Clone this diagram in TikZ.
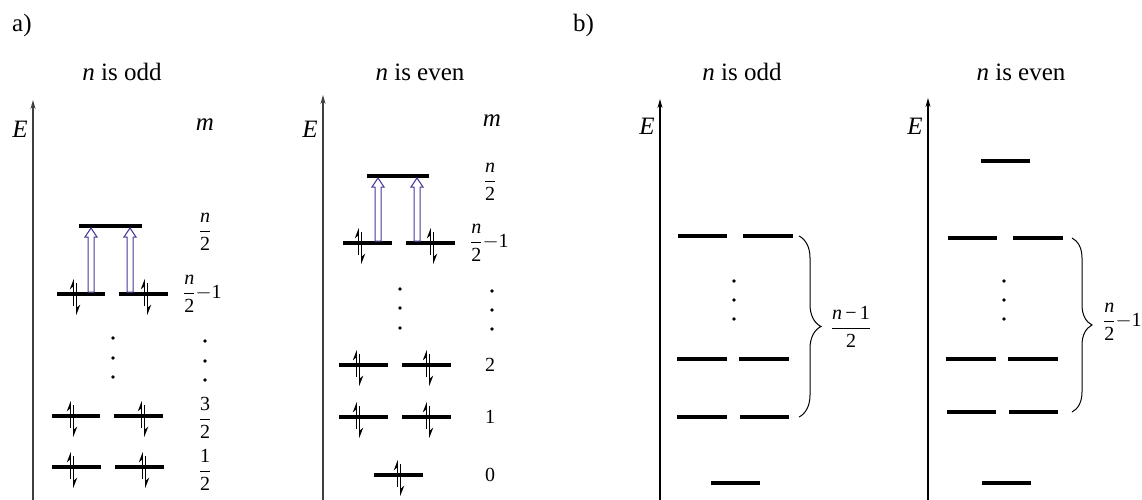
\documentclass[tikz,border=0pt]{standalone}
\usepackage{fontspec}
\setmainfont{Liberation Serif}
\usetikzlibrary{arrows.meta,decorations.pathreplacing}
\newcommand{\myfr}[2]{$\displaystyle\frac{\mbox{#1}}{\mbox{#2}}$}
\newcommand{\spinpair}[2]{%
  \draw[spinline] (#1-1.7,#2+12) -- (#1-1.7,#2-15);
  \draw[spinline] (#1+1.7,#2-11) -- (#1+1.7,#2+21);}
\newcommand{\hollowup}[3]{% x, ybottom, ytop
  \draw[excite] (#1-3,#2) -- (#1-3,#3+9) -- (#1-6,#3+9) -- (#1,#3) -- (#1+6,#3+9) -- (#1+3,#3+9) -- (#1+3,#2) -- cycle;}
\newcommand{\vdotsat}[4]{% x, y1, y2, y3
  \fill (#1,#2) circle (1.8) (#1,#3) circle (1.8) (#1,#4) circle (1.8);}
\definecolor{exc}{RGB}{72,56,150}
\tikzset{
  lvl/.style={line width=4pt},
  axisline/.style={line width=1.2pt, black!75, -{Stealth[length=9pt,width=5pt]}},
  spinline/.style={line width=1pt, -{Stealth[left,length=9pt,width=7pt]}},
  excite/.style={draw=exc, line width=1pt, fill=white},
  title/.style={font=\fontsize{25}{29}\selectfont, anchor=base},
  biglbl/.style={font=\fontsize{25}{29}\selectfont\itshape, anchor=base},
  lbl/.style={font=\fontsize{20}{24}\selectfont},
  br/.style={decorate, line width=1pt}
}
\begin{document}
\begin{tikzpicture}[x=1pt,y=-1pt]
\useasboundingbox (0,0) rectangle (1142,500);
% panel letters
\node[title, anchor=base west, inner sep=0] (pa) at (12,32) {a)};
\node[title, anchor=base west, inner sep=0] (pb) at (573,32) {b)};
% ---------- a) n odd ----------
\node[title] (t1) at (122,81) {\textit{n} is odd};
\coordinate (ax1b) at (33,500); \coordinate (ax1t) at (33,100);
\draw[axisline] (ax1b) -- (ax1t);
\node[biglbl] (E1) at (20,137) {E};
\node[biglbl] (m1) at (205,131) {m};
\draw[lvl] (79,226) -- (142,226);
\draw[lvl] (57,294) -- (105,294); \draw[lvl] (119,294) -- (168,294);
\draw[lvl] (52,416) -- (100,416); \draw[lvl] (114,416) -- (163,416);
\draw[lvl] (52,467) -- (101,467); \draw[lvl] (115,467) -- (164,467);
\spinpair{75}{294}\spinpair{146}{294}
\spinpair{72}{416}\spinpair{143}{416}
\spinpair{72}{467}\spinpair{144}{467}
\hollowup{91}{292}{228}\hollowup{130}{292}{228}
\vdotsat{113}{338}{358}{377}
\vdotsat{205}{341}{361}{380}
\node[lbl] (l1a) at (205,232) {\myfr{\itshape n}{2}};
\node[lbl, anchor=west, inner sep=0] (l1b) at (183,294) {\myfr{\itshape n}{2}$-$1};
\node[lbl] (l1c) at (205,418) {\myfr{3}{2}};
\node[lbl] (l1d) at (205,470) {\myfr{1}{2}};
% ---------- a) n even ----------
\node[title] (t2) at (420,81) {\textit{n} is even};
\coordinate (ax2b) at (323,500); \coordinate (ax2t) at (323,95);
\draw[axisline] (ax2b) -- (ax2t);
\node[biglbl] (E2) at (310,137) {E};
\node[biglbl] (m2) at (492,127) {m};
\draw[lvl] (367,176) -- (429,176);
\draw[lvl] (343,243) -- (392,243); \draw[lvl] (406,243) -- (455,243);
\draw[lvl] (339,365) -- (388,365); \draw[lvl] (402,365) -- (451,365);
\draw[lvl] (339,417) -- (388,417); \draw[lvl] (402,417) -- (451,417);
\draw[lvl] (374,475) -- (423,475);
\spinpair{360}{243}\spinpair{432}{243}
\spinpair{358}{365}\spinpair{428}{365}
\spinpair{358}{417}\spinpair{428}{417}
\spinpair{399}{475}
\hollowup{378}{241}{178}\hollowup{417}{241}{178}
\vdotsat{400}{289}{308}{328}
\vdotsat{492}{291}{310}{329}
\node[lbl] (l2a) at (490,182) {\myfr{\itshape n}{2}};
\node[lbl, anchor=west, inner sep=0] (l2b) at (470,243) {\myfr{\itshape n}{2}$-$1};
\node[lbl] (l2c) at (490,365) {2};
\node[lbl] (l2d) at (490,417) {1};
\node[lbl] (l2e) at (490,475) {0};
% ---------- b) n odd ----------
\node[title] (t3) at (742,81) {\textit{n} is odd};
\coordinate (ax3b) at (660,500); \coordinate (ax3t) at (660,99);
\draw[axisline, black] (ax3b) -- (ax3t);
\node[biglbl] (E3) at (647,135) {E};
\draw[lvl] (678,236) -- (727,236); \draw[lvl] (743,236) -- (793,236);
\draw[lvl] (677,359) -- (727,359); \draw[lvl] (739,359) -- (789,359);
\draw[lvl] (677,417) -- (727,417); \draw[lvl] (740,417) -- (789,417);
\draw[lvl] (711,483) -- (760,483);
\vdotsat{734}{281}{300}{319}
\coordinate (b3t) at (799,236); \coordinate (b3b) at (799,417);
\draw[br, decoration={brace, amplitude=22pt}] (b3t) -- (b3b);
\node[lbl] (l3) at (851,327) {\myfr{\itshape n\,\upshape−\,1}{2}};
% ---------- b) n even ----------
\node[title] (t4) at (1021,81) {\textit{n} is even};
\coordinate (ax4b) at (928,500); \coordinate (ax4t) at (928,98);
\draw[axisline, black] (ax4b) -- (ax4t);
\node[biglbl] (E4) at (915,135) {E};
\draw[lvl] (981,161) -- (1030,161);
\draw[lvl] (948,238) -- (997,238); \draw[lvl] (1013,238) -- (1063,238);
\draw[lvl] (946,359) -- (996,359); \draw[lvl] (1008,359) -- (1058,359);
\draw[lvl] (947,412) -- (996,412); \draw[lvl] (1009,412) -- (1058,412);
\draw[lvl] (982,483) -- (1031,483);
\vdotsat{1004}{281}{300}{319}
\coordinate (b4t) at (1072,238); \coordinate (b4b) at (1072,412);
\draw[br, decoration={brace, amplitude=20pt}] (b4t) -- (b4b);
\node[lbl, anchor=west, inner sep=0] (l4) at (1103,322) {\myfr{\itshape n}{2}$-$1};
\end{tikzpicture}
\end{document}
